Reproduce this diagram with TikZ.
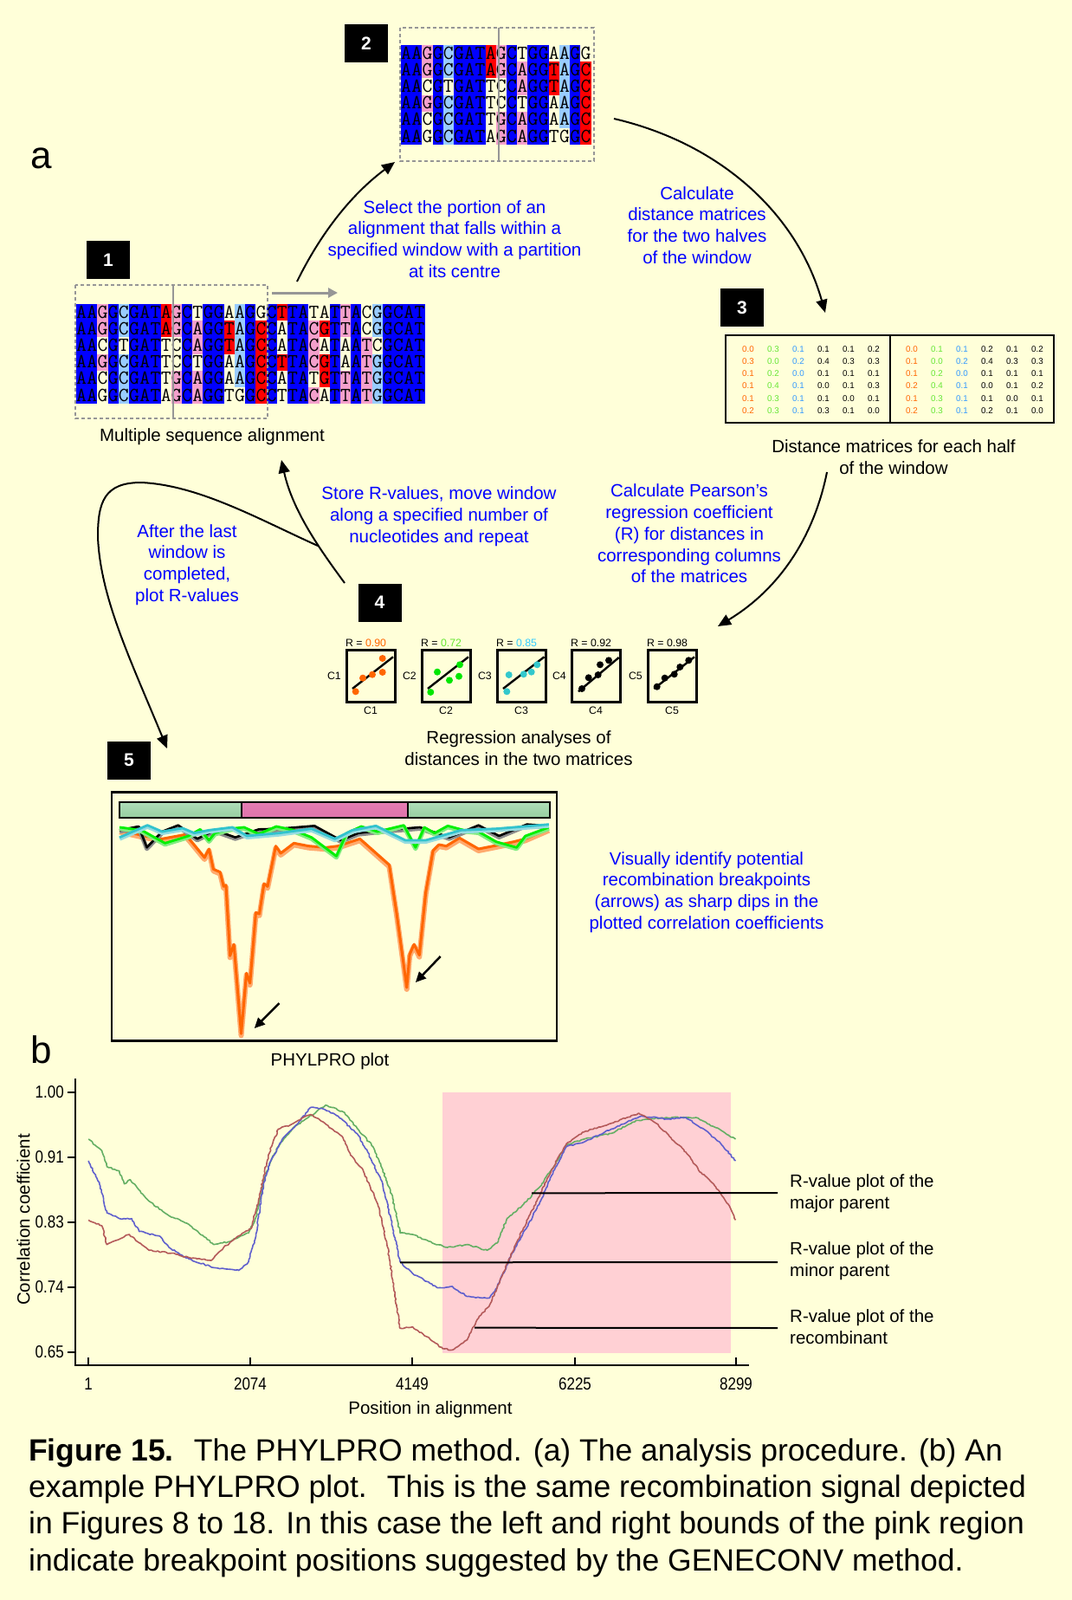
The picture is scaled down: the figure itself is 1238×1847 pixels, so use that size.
\documentclass[tikz,border=0pt]{standalone}
\usepackage{fontspec}
\usepackage{graphicx}
\setmainfont{Liberation Sans}
\usetikzlibrary{arrows.meta,decorations.pathmorphing}
\definecolor{bg}{RGB}{255,255,217}
\definecolor{txtblue}{RGB}{0,0,255}
\definecolor{alB}{RGB}{0,0,255}
\definecolor{alP}{RGB}{244,160,204}
\definecolor{alL}{RGB}{153,204,255}
\definecolor{alR}{RGB}{255,0,0}
\colorlet{alW}{bg}
\definecolor{cOr}{RGB}{255,102,0}
\definecolor{cGrT}{RGB}{102,230,51}
\definecolor{cBlT}{RGB}{51,153,255}
\definecolor{cGrD}{RGB}{0,230,0}
\definecolor{cCyD}{RGB}{51,200,204}
\definecolor{cCyT}{RGB}{51,204,255}
\colorlet{mc0}{cOr}\colorlet{mc1}{cGrT}\colorlet{mc2}{cBlT}
\colorlet{mc3}{black}\colorlet{mc4}{black}\colorlet{mc5}{black}
\definecolor{wingray}{RGB}{150,150,150}
\definecolor{pinkreg}{RGB}{255,208,212}
\definecolor{pgreen}{RGB}{100,175,100}
\definecolor{pblue}{RGB}{95,95,205}
\definecolor{pred}{RGB}{180,90,90}
\newcommand\fLbl{\fontsize{20.5}{24.7}\selectfont}
\newcommand\fNum{\fontsize{21}{21}\selectfont\bfseries}
\newcommand\fMat{\fontsize{9.8}{10}\selectfont}
\newcommand\fSm{\fontsize{12.3}{13}\selectfont}
\newcommand\fMono{\fontsize{23}{23}\selectfont\ttfamily}
\newcommand\fCap{\fontsize{35.5}{42.5}\selectfont}
\newcommand\fBig{\fontsize{44}{44}\selectfont}
\newcommand\fTick{\fontsize{20}{20}\selectfont}
\newcommand\narrow[1]{\scalebox{0.85}[1]{#1}}
% alignment rows: letter/colour code
\newcommand\rowA{A/B,A/B,G/P,G/B,C/L,G/B,A/B,T/B,A/R,G/P,C/B,T/W,G/B,G/B,A/W,A/L,G/B,G/W,C/B,T/R,T/B,A/B,T/W,A/W,T/B,T/P,A/B,C/W,G/L,G/B,C/B,A/B,T/B}
\newcommand\rowB{A/B,A/B,G/P,G/B,C/L,G/B,A/B,T/B,A/R,G/P,C/B,A/P,G/B,G/B,T/R,A/L,G/B,C/R,C/B,A/W,T/B,A/B,C/P,G/R,T/B,T/P,A/B,C/W,G/L,G/B,C/B,A/B,T/B}
\newcommand\rowC{A/B,A/B,C/W,G/B,T/W,G/B,A/B,T/B,T/W,C/W,C/B,A/P,G/B,G/B,T/R,A/L,G/B,C/R,C/B,A/W,T/B,A/B,C/P,A/W,T/B,A/W,A/B,T/P,C/W,G/B,C/B,A/B,T/B}
\newcommand\rowD{A/B,A/B,G/P,G/B,C/L,G/B,A/B,T/B,T/W,C/W,C/B,T/W,G/B,G/B,A/W,A/L,G/B,C/R,C/B,T/R,T/B,A/B,C/P,G/R,T/B,A/W,A/B,T/P,G/L,G/B,C/B,A/B,T/B}
\newcommand\rowE{A/B,A/B,C/W,G/B,C/L,G/B,A/B,T/B,T/W,G/P,C/B,A/P,G/B,G/B,A/W,A/L,G/B,C/R,C/B,A/W,T/B,A/B,T/W,G/R,T/B,T/P,A/B,T/P,G/L,G/B,C/B,A/B,T/B}
\newcommand\rowF{A/B,A/B,G/W,G/B,C/L,G/B,A/B,T/B,A/W,G/P,C/B,A/P,G/B,G/B,T/W,G/W,G/B,C/R,C/B,T/W,T/B,A/B,C/P,A/W,T/B,T/P,A/B,T/P,G/L,G/B,C/B,A/B,T/B}
\newcommand\alnrow[5]{%
  \foreach \ch/\cc [count=\i from 0] in #4 {%
    \ifnum\i<#3\relax
      \fill[fill=al\cc] ({#1+\i*12.2},#2) rectangle ++(12.45,19.45);
      \node[mono] (#5\i) at ({#1+\i*12.2+6.1},{#2+16.1}) {\ch};
    \fi}}
\newcommand\regpanel[8]{%
  \node[panel] (pan#2) at (#1,749) {};
  \node[smtxt, anchor=base west] (rv#2) at (#1,746) {R = \textcolor{#4}{#5}};
  \node[smtxt, anchor=east] (cy#2) at ({#1-5},780) {C#2};
  \node[smtxt] (cx#2) at ({#1+29},820) {C#2};
  \begin{scope}[shift={(#1,749)}]
    \draw[line width=2.4pt] #7 -- #8;
    \foreach \dx/\dy in {#6} \fill[#3] (\dx,\dy) circle (4pt);
  \end{scope}}
\begin{document}
\begin{tikzpicture}[x=1pt,y=-1pt,
  numbox/.style={fill=black, text=white, minimum width=50pt, minimum height=44pt, font=\fNum, inner sep=0},
  bluetxt/.style={text=txtblue, align=center, font=\fLbl, inner sep=0},
  lbl/.style={align=center, font=\fLbl, inner sep=0},
  mono/.style={font=\fMono, inner sep=0, anchor=base},
  mat/.style={font=\fMat, inner sep=0},
  smtxt/.style={font=\fSm, inner sep=0},
  tick/.style={font=\fTick, inner sep=0},
  panel/.style={draw, line width=2.6pt, minimum width=56pt, minimum height=60pt, anchor=north west, inner sep=0},
  flow/.style={-{Triangle[length=15pt,width=13pt]}, line width=2pt},
  window/.style={draw=wingray, dashed, dash pattern=on 4pt off 3pt, line width=2pt},
  capt/.style={font=\fCap, anchor=base west, inner sep=0}]
\fill[bg] (0,0) rectangle (1238,1847);
\useasboundingbox (0,0) rectangle (1238,1847);

\node[font=\fBig, anchor=base west, inner sep=0] (la) at (35,194) {a};
\node[font=\fBig, anchor=base west, inner sep=0] (lb) at (35,1227) {b};

% ---------- step 1: alignment
\node[numbox] (n1) at (125,300) {1};
\alnrow{88}{351}{33}{\rowA}{p1a}
\alnrow{88}{370.2}{33}{\rowB}{p1b}
\alnrow{88}{389.4}{33}{\rowC}{p1c}
\alnrow{88}{408.6}{33}{\rowD}{p1d}
\alnrow{88}{427.8}{33}{\rowE}{p1e}
\alnrow{88}{447}{33}{\rowF}{p1f}
\draw[window] (87,329) rectangle (309,483);
\draw[draw=wingray, line width=2pt] (200,329) -- (200,483);
\coordinate (ga) at (314,338);
\coordinate (gb) at (390,338);
\draw[draw=wingray, line width=3pt, -{Triangle[length=11pt,width=11pt]}] (ga) -- (gb);
\node[lbl] (msa) at (245,504) {Multiple sequence alignment};

% ---------- step 2
\node[numbox] (n2) at (423,50) {2};
\alnrow{463}{52}{18}{\rowA}{p2a}
\alnrow{463}{71.2}{18}{\rowB}{p2b}
\alnrow{463}{90.4}{18}{\rowC}{p2c}
\alnrow{463}{109.6}{18}{\rowD}{p2d}
\alnrow{463}{128.8}{18}{\rowE}{p2e}
\alnrow{463}{148}{18}{\rowF}{p2f}
\draw[window] (462,32) rectangle (686,186);
\draw[draw=wingray, line width=2pt] (576,32) -- (576,186);

% ---------- step 3: matrices
\node[numbox] (n3) at (857,355) {3};
\node[draw, line width=2.6pt, minimum width=379pt, minimum height=101pt, inner sep=0] (mbox) at (1027.5,437.5) {};
\draw[line width=2.6pt] (1028,387) -- (1028,488);
\foreach \rw [count=\r from 0] in {{0.0,0.3,0.1,0.1,0.1,0.2},{0.3,0.0,0.2,0.4,0.3,0.3},{0.1,0.2,0.0,0.1,0.1,0.1},{0.1,0.4,0.1,0.0,0.1,0.3},{0.1,0.3,0.1,0.1,0.0,0.1},{0.2,0.3,0.1,0.3,0.1,0.0}}
  \foreach \v [count=\c from 0] in \rw
    \node[mat, text=mc\c] (ml\r\c) at ({864+29*\c},{403+14.2*\r}) {\v};
\foreach \rw [count=\r from 0] in {{0.0,0.1,0.1,0.2,0.1,0.2},{0.1,0.0,0.2,0.4,0.3,0.3},{0.1,0.2,0.0,0.1,0.1,0.1},{0.2,0.4,0.1,0.0,0.1,0.2},{0.1,0.3,0.1,0.1,0.0,0.1},{0.2,0.3,0.1,0.2,0.1,0.0}}
  \foreach \v [count=\c from 0] in \rw
    \node[mat, text=mc\c] (mr\r\c) at ({1053+29*\c},{403+14.2*\r}) {\v};
\node[lbl] (dmlab) at (1032,528) {Distance matrices for each half\\of the window};

% ---------- step 4: regressions
\node[numbox] (n4) at (438.5,695.5) {4};
\regpanel{399}{1}{cOr}{cOr}{0.90}{11.7/49.3,20/33.7,31/29.7,42.7/27,42.7/11}{(8,46)}{(55,9.3)}
\regpanel{486}{2}{cGrD}{cGrT}{0.72}{11.3/50,19/26.7,33/36.3,44/31.7,45/18.3}{(8,46)}{(55,9.3)}
\regpanel{573}{3}{cCyD}{cCyT}{0.85}{12.3/49.3,14.7/30,31.7/29.3,40.7/26.7,47.3/18.3}{(8,46)}{(55.5,9.3)}
\regpanel{659}{4}{black}{black}{0.92}{13/46,20.7/33.3,31.7/30,34/18.3,44/13.3}{(9,49.3)}{(55.7,10)}
\regpanel{747}{5}{black}{black}{0.98}{11.7/43.7,20.7/33.7,31.7/29.3,38.3/21,48.3/13.3}{(8.3,46)}{(55,9.3)}
\node[lbl] (rglab) at (599,864) {Regression analyses of\\distances in the two matrices};

% ---------- step 5: PHYLPRO plot
\node[numbox] (n5) at (149,877.5) {5};
\node[draw, line width=2.5pt, minimum width=514pt, minimum height=287pt, inner sep=0] (pbox) at (386,1058) {};
\shade[top color={rgb,255:red,175;green,222;blue,185}, middle color={rgb,255:red,212;green,248;blue,218}, bottom color={rgb,255:red,150;green,205;blue,160}] (138,926) rectangle (278.5,944);
\shade[top color={rgb,255:red,230;green,125;blue,180}, middle color={rgb,255:red,247;green,165;blue,208}, bottom color={rgb,255:red,220;green,115;blue,170}] (278.5,926) rectangle (471.4,944);
\shade[top color={rgb,255:red,175;green,222;blue,185}, middle color={rgb,255:red,212;green,248;blue,218}, bottom color={rgb,255:red,150;green,205;blue,160}] (471.4,926) rectangle (634.6,944);
\draw[line width=2pt] (138,926) rectangle (634.6,944);
\draw[line width=2pt] (278.5,926) -- (278.5,944) (471.4,926) -- (471.4,944);
\begin{scope}[xshift=119.5pt, yshift=-880pt, x=0.3384pt, y=-0.33333pt, line join=round]
  \def\orpts{(55,235) (140,255) (200,265) (280,250) (345,330) (360,300) (375,370) (398,380) (410,430) (418,425) (432,670) (445,630) (470,940) (488,730) (500,765) (520,520) (532,525) (548,420) (560,430) (588,290) (605,315) (650,280) (700,290) (760,295) (800,290) (875,265) (975,355) (1000,520) (1035,780) (1045,665) (1060,630) (1078,668) (1100,450) (1125,305) (1145,285) (1170,290) (1215,262) (1280,300) (1330,290) (1400,275) (1440,265) (1520,230)}
  \def\blpts{(55,235) (120,222) (148,295) (200,240) (255,218) (320,265) (380,235) (450,260) (530,232) (600,230) (720,220) (810,270) (870,245) (960,235) (1080,225) (1180,260) (1280,218) (1350,255) (1445,215) (1520,220)}
  \def\grpts{(55,225) (130,235) (210,280) (290,255) (330,232) (360,270) (380,245) (430,230) (480,225) (530,248) (590,222) (650,235) (710,260) (795,325) (830,245) (880,222) (935,240) (1025,218) (1065,295) (1095,225) (1130,245) (1175,220) (1230,235) (1280,240) (1340,275) (1410,295) (1440,255) (1520,225)}
  \def\cypts{(55,260) (150,218) (200,240) (270,228) (310,245) (360,235) (440,225) (490,255) (600,245) (710,230) (790,265) (850,235) (930,220) (1030,270) (1100,270) (1220,235) (1340,230) (1520,215)}
  \draw[line width=6pt, draw={rgb,255:red,255;green,170;blue,110}, yshift=-2pt] plot coordinates {\orpts};
  \draw[line width=3pt, draw=cOr] plot coordinates {\orpts};
  \draw[line width=5pt, draw=black!45, yshift=-1.5pt] plot coordinates {\blpts};
  \draw[line width=2.6pt, draw=black] plot coordinates {\blpts};
  \draw[line width=5pt, draw={rgb,255:red,130;green,235;blue,130}, yshift=-1.5pt] plot coordinates {\grpts};
  \draw[line width=2.8pt, draw={rgb,255:red,0;green,240;blue,0}] plot coordinates {\grpts};
  \draw[line width=5pt, draw={rgb,255:red,150;green,220;blue,225}, yshift=-1.5pt] plot coordinates {\cypts};
  \draw[line width=2.8pt, draw={rgb,255:red,50;green,195;blue,205}] plot coordinates {\cypts};
\end{scope}
\coordinate (ba1) at (322.5,1158); \coordinate (bb1) at (293.8,1187);
\coordinate (ba2) at (508.7,1104); \coordinate (bb2) at (479.9,1134);
\draw[line width=2.5pt, -{Triangle[length=12pt,width=11pt]}] (ba1) -- (bb1);
\draw[line width=2.5pt, -{Triangle[length=12pt,width=11pt]}] (ba2) -- (bb2);
\node[lbl] (pplab) at (381,1225) {PHYLPRO plot};

% ---------- flow arrows
\coordinate (s12) at (343,325); \coordinate (e12) at (456,187);
\coordinate (s23) at (709,137); \coordinate (e23) at (953,361);
\coordinate (s34) at (955,545); \coordinate (e34) at (829,723);
\coordinate (s41) at (398,673); \coordinate (e41) at (325,531);
\coordinate (br) at (367,630); \coordinate (e45) at (193,864);
\draw[flow] (s12) .. controls (370,270) and (405,225) .. (e12);
\draw[flow] (s23) .. controls (830,165) and (920,245) .. (e23);
\draw[flow] (s34) .. controls (940,620) and (900,680) .. (e34);
\draw[flow] (s41) .. controls (370,635) and (338,590) .. (e41);
\draw[flow] (br) .. controls (300,600) and (230,560) .. (163,557) .. controls (120,557) and (113,580) .. (113,620) .. controls (116,690) and (150,760) .. (e45);

% ---------- blue texts
\node[bluetxt] (t12) at (525,276) {Select the portion of an\\alignment that falls within a\\specified window with a partition\\at its centre};
\node[bluetxt] (t23) at (805,260) {Calculate\\distance matrices\\for the two halves\\of the window};
\node[bluetxt] (t41) at (507,596) {Store R-values, move window\\along a specified number of\\nucleotides and repeat};
\node[bluetxt] (t45) at (216,652) {After the last\\window is\\completed,\\plot R-values};
\node[bluetxt] (t34) at (796,616) {Calculate Pearson’s\\regression coefficient\\(R) for distances in\\corresponding columns\\of the matrices};
\node[bluetxt] (t5) at (816,1030) {Visually identify potential\\recombination breakpoints\\(arrows) as sharp dips in the\\plotted correlation coefficients};

% ---------- part b
\fill[pinkreg] (511,1261) rectangle (844,1562);
\begin{scope}[yshift=-1240pt, x=0.574pt, y=-0.33333pt, line width=1.6pt, line join=round,
   decoration={random steps, segment length=2.5pt, amplitude=0.8pt}]
  \draw[pgreen, decorate] plot coordinates {(178,225) (205,265) (215,320) (240,335) (250,380) (262,365) (300,440) (340,490) (380,520) (430,590) (460,580) (500,550) (515,495) (530,370) (545,300) (565,235) (590,185) (620,150) (655,107) (690,130) (720,190) (750,250) (770,330) (790,430) (805,550) (830,555) (870,585) (900,600) (940,590) (980,610) (1000,585) (1020,500) (1060,440) (1090,380) (1110,330) (1140,245) (1175,225) (1230,205) (1280,160) (1340,150) (1400,150) (1440,185) (1480,225)};
  \draw[pblue, decorate] plot coordinates {(178,300) (200,380) (215,480) (240,500) (265,500) (280,545) (320,560) (340,600) (380,640) (430,670) (480,680) (500,650) (515,560) (530,380) (545,300) (570,220) (600,170) (625,115) (650,120) (680,145) (720,210) (740,270) (770,380) (790,530) (805,650) (830,690) (880,740) (910,735) (940,770) (985,775) (1000,740) (1030,620) (1060,530) (1090,430) (1110,350) (1140,250) (1175,235) (1230,190) (1290,145) (1340,155) (1380,150) (1420,195) (1450,240) (1480,300)};
  \draw[pred, decorate] plot coordinates {(178,505) (205,525) (215,590) (260,555) (300,610) (345,620) (380,635) (425,645) (450,600) (480,560) (505,535) (520,440) (540,280) (560,190) (585,175) (600,160) (625,140) (650,165) (690,220) (705,280) (730,330) (760,450) (780,600) (805,880) (830,875) (860,910) (890,950) (910,955) (940,920) (960,850) (985,800) (1010,700) (1040,580) (1080,440) (1110,330) (1140,240) (1175,200) (1230,170) (1285,135) (1320,170) (1350,220) (1380,270) (1410,340) (1440,390) (1465,450) (1480,505)};
  \coordinate (lmaj) at (1070,412);
  \coordinate (lmin) at (805,652);
  \coordinate (lrec) at (955,878);
\end{scope}
\draw[line width=2pt] (87,1245) -- (87,1576) -- (865,1576);
\foreach \yy/\lab [count=\k] in {1261/1.00,1336/0.91,1411/0.83,1486/0.74,1561/0.65} {
  \draw[line width=1.6pt] (78,\yy) -- (87,\yy);
  \node[tick, anchor=east] (yt\k) at (74,\yy) {\narrow{\lab}};}
\foreach \xx/\lab [count=\k] in {102/1,289/2074,476/4149,664/6225,850/8299} {
  \draw[line width=1.6pt] (\xx,1567) -- (\xx,1576);
  \node[tick] (xt\k) at (\xx,1598) {\narrow{\lab}};}
\node[lbl, rotate=90] (ylab) at (27,1408) {Correlation coefficient};
\node[lbl] (xlab) at (497,1627) {Position in alignment};
\node[lbl, anchor=west, align=left] (tmaj) at (912,1377.5) {R-value plot of the\\major parent};
\node[lbl, anchor=west, align=left] (tmin) at (912,1455.5) {R-value plot of the\\minor parent};
\node[lbl, anchor=west, align=left] (trec) at (912,1531.5) {R-value plot of the\\recombinant};
\coordinate (emaj) at (898,1377);
\coordinate (emin) at (898,1457);
\coordinate (erec) at (898,1533);
\draw[line width=2pt] (lmaj) -- (emaj);
\draw[line width=2pt] (lmin) -- (emin);
\draw[line width=2pt] (lrec) -- (erec);

% ---------- caption
\node[capt] (c1) at (33,1686) {\textbf{Figure 15.}\hspace{0.28em} The PHYLPRO method. (a) The analysis procedure. (b) An};
\node[capt] (c2) at (33,1728) {example PHYLPRO plot.\hspace{0.28em} This is the same recombination signal depicted};
\node[capt] (c3) at (33,1770) {in Figures 8 to 18. In this case the left and right bounds of the pink region};
\node[capt] (c4) at (33,1813) {indicate breakpoint positions suggested by the GENECONV method.};
\end{tikzpicture}
\end{document}
